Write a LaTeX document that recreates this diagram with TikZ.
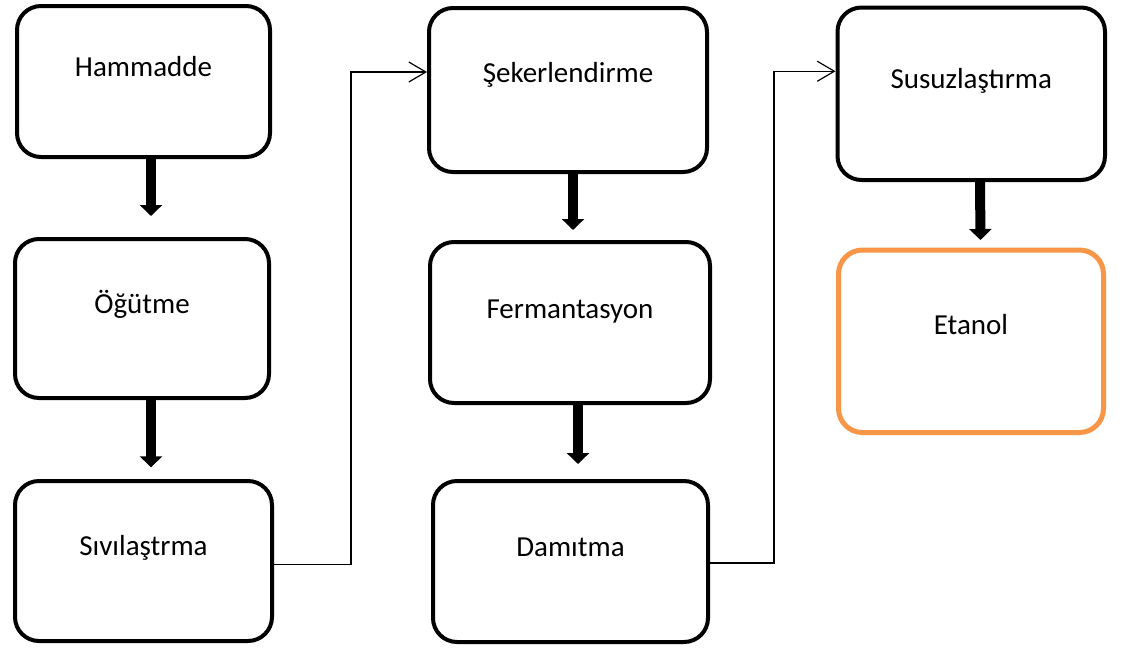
\documentclass[tikz,border=0pt]{standalone}
\usepackage{fontspec}
\setmainfont{Carlito}
\usetikzlibrary{arrows.meta}
\definecolor{orng}{HTML}{F79646}
\begin{document}
\begin{tikzpicture}[x=1pt,y=-1pt,
  box/.style={draw=black, line width=4pt, rounded corners=24pt, fill=white,
    inner sep=0pt, anchor=north west, font=\fontsize{29}{34}\selectfont},
  fat/.style={line width=10pt, -{Triangle[width=22pt,length=11pt]}},
  conn/.style={line width=1.2pt, -{Straight Barb[length=17pt,width=20pt]}}]
\useasboundingbox (0,0) rectangle (1125,649);

\node[box, minimum width=253pt, text height=70pt, text depth=81pt] (h) at (15,4) {Hammadde};
\node[box, minimum width=254pt, text height=74pt, text depth=85pt] (o) at (13,237) {Öğütme};
\node[box, minimum width=257pt, text height=74pt, text depth=86pt] (s) at (13,479) {Sıvılaştrma};
\node[box, minimum width=278pt, text height=74pt, text depth=90pt] (sk) at (427,6) {Şekerlendirme};
\node[box, minimum width=280pt, text height=76pt, text depth=85pt] (f) at (428,240) {Fermantasyon};
\node[box, minimum width=275pt, text height=75pt, text depth=86pt] (dm) at (431,479) {Damıtma};
\node[box, minimum width=267.5pt, text height=80.5pt, text depth=92pt] (su) at (835.5,5.5) {Susuzlaştırma};
\node[box, draw=orng, line width=5pt, minimum width=265pt, text height=84.5pt, text depth=98pt] (e) at (836,247.5) {Etanol};

\draw[fat] ([xshift=7.5pt]h.south) -- ([xshift=9pt,yshift=21pt]o.north);
\draw[fat] ([xshift=9pt]o.south) -- ([xshift=7.5pt,yshift=11.7pt]s.north);
\draw[fat] ([xshift=5pt]sk.south) -- ([xshift=3pt,yshift=10pt]f.north);
\draw[fat] ([xshift=8pt]f.south) -- ([xshift=7.5pt,yshift=15pt]dm.north);
\draw[fat] ([xshift=8.75pt]su.south) -- ([xshift=9.5pt,yshift=7.5pt]e.north);

\draw[conn] ([yshift=-3.7pt]s.east) -- ++(77,0) |- ([yshift=18pt]sk.west);
\draw[conn] ([yshift=-1.5pt]dm.east) -- ++(64,0) |- ([yshift=22.5pt]su.west);
\end{tikzpicture}
\end{document}
